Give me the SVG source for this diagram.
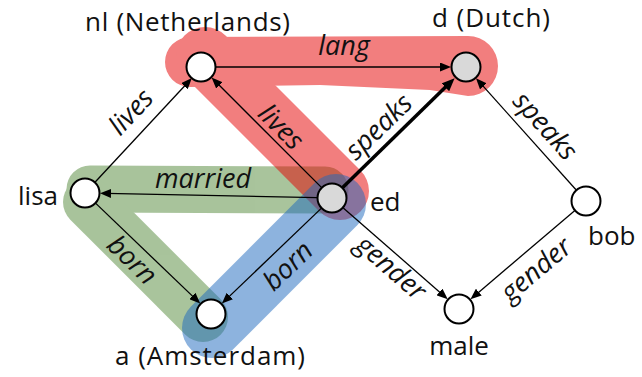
<svg xmlns="http://www.w3.org/2000/svg" width="642" height="377" viewBox="0 0 642 377">
<style>
.node{stroke:#000;stroke-width:2}
.w{fill:#fff}
.g{fill:#d9d9d9}
.lbl{font-family:"Open Sans","Liberation Sans",sans-serif;font-size:26px;fill:#111}
.el{font-family:"Open Sans","Liberation Sans",sans-serif;font-size:27px;font-style:italic;fill:#111;text-anchor:middle}
.e{stroke:#000;stroke-width:1.3;fill:none;marker-end:url(#ah)}
.et{stroke:#000;stroke-width:3.5;fill:none;marker-end:url(#aht)}
</style>
<defs>
<marker id="ah" markerUnits="userSpaceOnUse" markerWidth="11" markerHeight="9" refX="5" refY="4.5" orient="auto">
<path d="M0,0 L11,4.5 L0,9 z" fill="#000"/>
</marker>
<marker id="aht" markerUnits="userSpaceOnUse" markerWidth="13" markerHeight="11" refX="5" refY="5.5" orient="auto">
<path d="M0,0 L13,5.5 L0,11 z" fill="#000"/>
</marker>
</defs>
<g id="highlights">
<g id="band-green" opacity="0.5" fill="none" stroke="#53893a" stroke-linecap="round">
<line x1="90" y1="189" x2="325" y2="190" stroke-width="47"/>
<line x1="88" y1="202" x2="203" y2="317" stroke-width="50"/>
</g>
<g id="band-red" opacity="0.5" fill="#e60000" stroke="#e60000">
<path stroke="none" d="M190,37 L468,36 A30,30 0 0 1 468,96 L430,90 L320,85 L190,87 A25,25 0 0 1 190,37 Z"/>
<line x1="205" y1="56" x2="340" y2="191" stroke-width="58" stroke-linecap="round"/>
</g>
<g id="band-blue" opacity="0.5" stroke="#1e69be" stroke-linecap="round">
<line x1="336" y1="204" x2="212" y2="328" stroke-width="60"/>
</g>
</g>
<g id="connectors">
<line class="e" x1="95.2" y1="182.0" x2="187.8" y2="82.5"/>
<line class="e" x1="321.4" y1="187.4" x2="215.8" y2="81.8"/>
<line class="e" x1="216" y1="67" x2="445" y2="67"/>
<line class="et" x1="342.7" y1="187.5" x2="448.9" y2="83.8"/>
<line class="e" x1="576.0" y1="189.8" x2="480.0" y2="82.6"/>
<line class="e" x1="317" y1="197.7" x2="106" y2="193.4"/>
<line class="e" x1="95.8" y1="203.4" x2="195.9" y2="299.4"/>
<line class="e" x1="321.2" y1="208.4" x2="226.2" y2="299.4"/>
<line class="e" x1="343.3" y1="207.9" x2="443.2" y2="295.2"/>
<line class="e" x1="574.6" y1="210.7" x2="475.0" y2="295.4"/>
</g>
<g id="edge-labels">
<text class="el" x="344" y="55">lang</text>
<text class="el" x="203" y="188">married</text>
<text class="el" transform="translate(131,112) rotate(-47)" y="9">lives</text>
<text class="el" transform="translate(281,127) rotate(45)" y="9">lives</text>
<text class="el" transform="translate(381,129) rotate(-44)" y="6">speaks</text>
<text class="el" transform="translate(543,128) rotate(48)" y="6">speaks</text>
<text class="el" transform="translate(132,260) rotate(44)" y="9">born</text>
<text class="el" transform="translate(288,266) rotate(-44)" y="9">born</text>
<text class="el" transform="translate(389,270) rotate(41)" y="6">gender</text>
<text class="el" transform="translate(538,272) rotate(-40)" y="6">gender</text>
</g>
<g id="node-nl"><circle class="node w" cx="201" cy="67" r="14.5"/><text class="lbl" x="85" y="31" textLength="205" lengthAdjust="spacing">nl (Netherlands)</text></g>
<g id="node-d"><circle class="node g" cx="466" cy="67" r="14.5"/><text class="lbl" x="432" y="27" textLength="118" lengthAdjust="spacing">d (Dutch)</text></g>
<g id="node-lisa"><circle class="node w" cx="85" cy="193" r="14.5"/><text class="lbl" x="18" y="205">lisa</text></g>
<g id="node-ed"><circle class="node g" cx="332" cy="198" r="14.5"/><text class="lbl" x="370" y="211">ed</text></g>
<g id="node-a"><circle class="node w" cx="211" cy="314" r="14.5"/><text class="lbl" x="115" y="365" textLength="190" lengthAdjust="spacing">a (Amsterdam)</text></g>
<g id="node-male"><circle class="node w" cx="459" cy="309" r="14.5"/><text class="lbl" x="459" y="355" text-anchor="middle">male</text></g>
<g id="node-bob"><circle class="node w" cx="586" cy="201" r="14.5"/><text class="lbl" x="588" y="245">bob</text></g>
</svg>
